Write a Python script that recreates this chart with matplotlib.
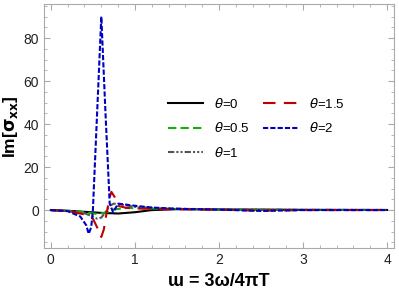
import numpy as np
import matplotlib.pyplot as plt
from matplotlib.ticker import MultipleLocator

# values
x_t0 = [0, 0.2, 0.4, 0.6, 0.8, 1.0, 1.2, 1.5, 2.0, 3.0, 4.0]
y_t0 = [0, -0.3, -0.8, -1.3, -1.6, -1.0, 0.0, 0.4, 0.3, 0.1, 0.05]

x_t05 = [0, 0.2, 0.4, 0.55, 0.65, 0.75, 0.9, 1.1, 1.5, 2.0, 3.0, 4.0]
y_t05 = [0, -0.4, -1.0, -1.8, -1.2, 0.3, 1.0, 0.8, 0.5, 0.3, 0.1, 0.05]

x_t1 = [0, 0.2, 0.4, 0.5, 0.55, 0.6, 0.65, 0.7, 0.75, 0.85, 1.0, 1.3, 2.0, 3.0, 4.0]
y_t1 = [0, -0.4, -1.5, -3.0, -4.0, -3.5, -1.0, 2.0, 3.0, 2.5, 1.5, 0.8, 0.3, 0.1, 0.05]

x_t15 = [0, 0.2, 0.4, 0.5, 0.55, 0.6, 0.63, 0.66, 0.7, 0.72, 0.76, 0.8, 0.9, 1.0, 1.3, 2.0, 2.5, 3.0, 4.0]
y_t15 = [0, -0.5, -2.0, -4.0, -8.0, -12.5, -9.0, -2.0, 6.0, 8.5, 6.0, 2.0, 1.0, 0.8, 0.5, 0.2, -0.3, 0.0, 0.0]

x_t2 = [0, 0.2, 0.35, 0.42, 0.45, 0.48, 0.5, 0.55, 0.6, 0.65, 0.7, 0.74, 0.8, 0.9, 1.0, 1.2, 1.5, 2.0, 2.5, 3.0, 4.0]
y_t2 = [0, -0.5, -3.0, -7.0, -11.0, -8.0, 0.0, 45.0, 90.0, 45.0, 3.0, -1.0, 3.0, 2.5, 2.0, 1.2, 0.6, 0.2, -0.4, 0.0, 0.0]

labels = [r'$\theta$=0', r'$\theta$=0.5', r'$\theta$=1', r'$\theta$=1.5', r'$\theta$=2']

plt.rcParams['font.family'] = ['Liberation Sans', 'DejaVu Sans']

fig = plt.figure(figsize=(3.99, 2.94), dpi=100)
ax = fig.add_axes([0.110, 0.156, 0.877, 0.830])

ax.plot(x_t0, y_t0, color='black', lw=1.5, label=labels[0])
ax.plot(x_t05, y_t05, color='#10b010', lw=1.5, dashes=(4, 2), label=labels[1])
ax.plot(x_t1, y_t1, color='#555555', lw=1.5, dashes=(3, 1, 1, 1, 1, 1), label=labels[2])
ax.plot(x_t15, y_t15, color='#c00000', lw=1.5, dashes=(6, 4), label=labels[3])
ax.plot(x_t2, y_t2, color='#0000c0', lw=1.5, dashes=(2.5, 1), label=labels[4])

ax.set_xlim(-0.083, 4.08)
ax.set_ylim(-17.7, 95.8)
ax.xaxis.set_major_locator(MultipleLocator(1))
ax.xaxis.set_minor_locator(MultipleLocator(0.2))
ax.yaxis.set_major_locator(MultipleLocator(20))
ax.yaxis.set_minor_locator(MultipleLocator(5))
ax.tick_params(which='both', direction='in', top=True, right=True, color='#aaaaaa',
               labelsize=10, labelcolor='#222222')
ax.tick_params(which='major', length=4)
ax.tick_params(which='minor', length=2)
ax.tick_params(labeltop=False, labelright=False)
for s in ax.spines.values():
    s.set_color('#aaaaaa')

ax.set_xlabel('ɯ = 3ω/4πT', fontsize=13, fontweight='bold')
ax.set_ylabel(r'Im[$\mathbf{\sigma_{xx}}$]', fontsize=12.5, fontweight='bold')
ax.yaxis.set_label_coords(-0.068, 0.5)

ax.legend(loc='upper left', bbox_to_anchor=(0.354, 0.62), ncol=2, frameon=False,
          fontsize=9.5, handlelength=2.7, handletextpad=0.8, columnspacing=1.0,
          labelspacing=0.8, borderpad=0, borderaxespad=0)

plt.savefig('out.png', dpi=100)
